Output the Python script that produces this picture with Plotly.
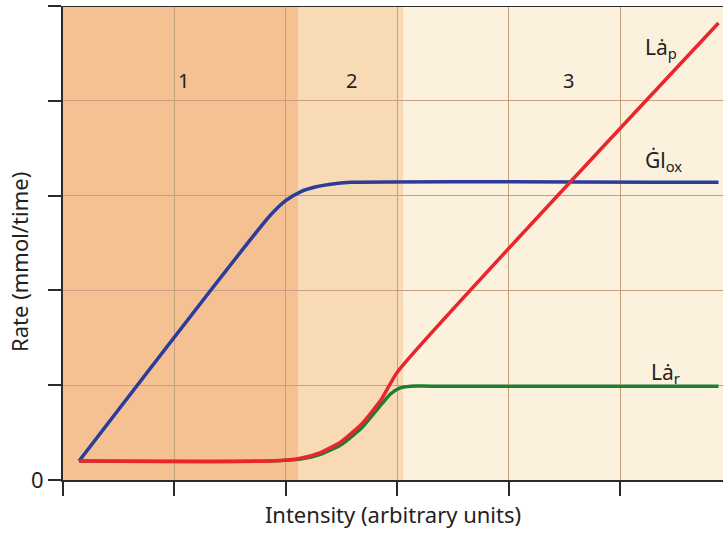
import plotly.graph_objects as go

# Intensity axis ticks and rate axis ticks (arbitrary units)
x_ticks = [0, 1, 2, 3, 4, 5]
y_ticks = [0, 1, 2, 3, 4, 5]
y_tick_text = ["0", "", "", "", "", ""]

# Glucose oxidation rate
glox_x = [0.144, 1.858, 2.00, 2.13, 2.26, 2.40, 2.58, 5.88]
glox_y = [0.20, 2.79, 2.95, 3.04, 3.09, 3.12, 3.14, 3.14]

# Lactate production rate
lap_x = [0.144, 1.86, 2.13, 2.31, 2.49, 2.67, 2.85, 3.00, 5.88]
lap_y = [0.20, 0.20, 0.23, 0.29, 0.40, 0.58, 0.84, 1.14, 4.82]

# Lactate removal rate
lar_x = [0.144, 1.86, 2.13, 2.31, 2.49, 2.67, 2.85, 2.94, 3.02, 3.12, 3.30, 5.88]
lar_y = [0.20, 0.20, 0.22, 0.27, 0.37, 0.54, 0.79, 0.91, 0.97, 0.99, 0.99, 0.99]

# Intensity domains
zone_names = ["1", "2", "3"]
zone_edges = [0.0, 2.11, 3.05, 5.92]
zone_colors = ["#f5c192", "#f8dbb5", "#fcf1dc"]
zone_label_x = [1.08, 2.59, 4.53]
zone_label_y = 4.21

# Curve end labels
curve_labels = ["Lȧ<sub>p</sub>", "Ġl<sub>ox</sub>", "Lȧ<sub>r</sub>"]
curve_label_x = [5.36, 5.39, 5.40]
curve_label_y = [4.56, 3.36, 1.13]

FONT = "Noto Sans"

fig = go.Figure()

fig.add_trace(go.Scatter(x=glox_x, y=glox_y, mode="lines",
                         line=dict(color="#2b3c9b", width=3.5, shape="spline", smoothing=0.6),
                         showlegend=False, hoverinfo="skip"))
fig.add_trace(go.Scatter(x=lar_x, y=lar_y, mode="lines",
                         line=dict(color="#1f7d33", width=3.5, shape="spline", smoothing=0.6),
                         showlegend=False, hoverinfo="skip"))
fig.add_trace(go.Scatter(x=lap_x, y=lap_y, mode="lines",
                         line=dict(color="#e8262b", width=3.5, shape="spline", smoothing=0.5),
                         showlegend=False, hoverinfo="skip"))

shapes = []
for i in range(3):
    shapes.append(dict(type="rect", xref="x", yref="y", layer="below",
                       x0=zone_edges[i], x1=zone_edges[i + 1], y0=0, y1=5,
                       fillcolor=zone_colors[i], line=dict(width=0)))
# top border
shapes.append(dict(type="line", xref="paper", yref="y", x0=0, x1=1, y0=5, y1=5,
                   line=dict(color="#2a2a2a", width=2)))
fig.update_layout(shapes=shapes)

annotations = []
for name, xv in zip(zone_names, zone_label_x):
    annotations.append(dict(x=xv, y=zone_label_y, text=name, showarrow=False,
                            font=dict(family=FONT, size=20, color="#222")))
for txt, xv, yv in zip(curve_labels, curve_label_x, curve_label_y):
    annotations.append(dict(x=xv, y=yv, text=txt, showarrow=False,
                            font=dict(family=FONT, size=21, color="#222")))
# rate axis title, sitting a little below the axis midpoint
annotations.append(dict(xref="paper", yref="paper", x=0, y=0.46, xshift=-44,
                        text="Rate (mmol/time)", textangle=-90, showarrow=False,
                        xanchor="center", yanchor="middle",
                        font=dict(family=FONT, size=22, color="#222")))
fig.update_layout(annotations=annotations)

fig.update_xaxes(range=[0, 5.92], tickvals=x_ticks, ticktext=["" for _ in x_ticks],
                 ticks="outside", ticklen=14, tickwidth=2, tickcolor="#2a2a2a",
                 showline=True, linecolor="#2a2a2a", linewidth=2,
                 showgrid=True, gridcolor="#c2a27a", gridwidth=1, zeroline=False,
                 title=dict(text="Intensity (arbitrary units)", standoff=10,
                            font=dict(family=FONT, size=22, color="#222")))
fig.update_yaxes(range=[0, 5], tickvals=y_ticks, ticktext=y_tick_text,
                 ticks="outside", ticklen=13, tickwidth=2, tickcolor="#2a2a2a",
                 showline=True, linecolor="#2a2a2a", linewidth=2,
                 showgrid=True, gridcolor="#c89f82", gridwidth=1, zeroline=False,
                 tickfont=dict(family=FONT, size=22, color="#222"))

fig.update_layout(width=723, height=536,
                  margin=dict(l=63, r=0, t=6, b=56),
                  paper_bgcolor="white", plot_bgcolor=zone_colors[2],
                  font=dict(family=FONT))

fig.write_html("out.html")
